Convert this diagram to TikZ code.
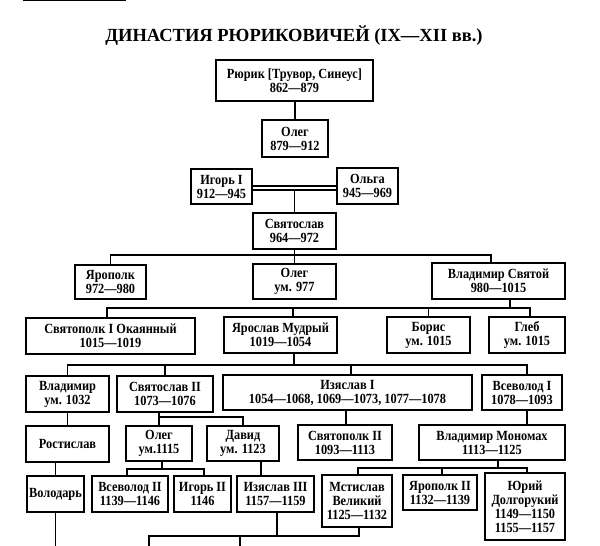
\documentclass[tikz,border=0pt]{standalone}
\usepackage{fontspec}
\setmainfont{Liberation Serif}
\newfontfamily\boxfont{Liberation Serif}[FakeStretch=0.88]
\usetikzlibrary{calc}
\newcommand\Bx[6]{\node[box, minimum width={#4pt-#2pt}, minimum height={#5pt-#3pt}] (#1) at ({(#2+#4)/2},{(#3+#5)/2}) {#6};}
\begin{document}
\begin{tikzpicture}[x=1pt,y=-1pt,
  box/.style={draw, line width=1.2pt, align=center, inner sep=0pt,
    font=\boxfont\bfseries\fontsize{14}{14}\selectfont},
  conn/.style={draw, line width=1.1pt},
  titlestyle/.style={font=\bfseries\fontsize{18.5}{20}\selectfont}]
\useasboundingbox (0,0) rectangle (600,546);
\fill (23,0) rectangle (126,1.2);
\node[titlestyle] (title) at (294,36) {ДИНАСТИЯ РЮРИКОВИЧЕЙ (IX—XII вв.)};
% boxes
\Bx{rurik}{216}{60}{373}{101}{Рюрик [Трувор, Синеус]\\862—879}
\Bx{olegA}{262}{120}{328}{157}{Олег\\879—912}
\Bx{igor}{191}{169}{252}{204}{Игорь I\\912—945}
\Bx{olga}{337}{168}{398}{204}{Ольга\\945—969}
\Bx{svyat}{253}{213}{336}{249}{Святослав\\964—972}
\Bx{yaropolk}{75}{265}{146}{299}{Ярополк\\972—980}
\Bx{olegB}{253}{264}{336}{299}{Олег\\ум. 977}
\Bx{vladsv}{432}{263}{565}{299}{Владимир Святой\\980—1015}
\Bx{svpolkA}{26}{318}{195}{354}{Святополк I Окаянный\\1015—1019}
\Bx{yaroslav}{224}{317}{337}{353}{Ярослав Мудрый\\1019—1054}
\Bx{boris}{387}{317}{470}{353}{Борис\\ум. 1015}
\Bx{gleb}{489}{317}{565}{353}{Глеб\\ум. 1015}
\Bx{vladimir}{26}{376}{109}{412}{Владимир\\ум. 1032}
\Bx{svyatB}{117}{376}{213}{412}{Святослав II\\1073—1076}
\Bx{izyaslavA}{223}{375}{472}{410}{Изяслав I\\1054—1068, 1069—1073, 1077—1078}
\Bx{vsevolodA}{482}{375}{562}{410}{Всеволод I\\1078—1093}
\Bx{rostislav}{26}{426}{109}{462}{Ростислав}
\Bx{olegC}{126}{426}{192}{461}{Олег\\ум.1115}
\Bx{david}{207}{426}{279}{461}{Давид\\ум. 1123}
\Bx{svpolkB}{298}{425}{392}{460}{Святополк II\\1093—1113}
\Bx{monomakh}{419}{425}{565}{460}{Владимир Мономах\\1113—1125}
\Bx{volodar}{27}{476}{84}{512}{Володарь}
\Bx{vsevolodB}{92}{476}{168}{512}{Всеволод II\\1139—1146}
\Bx{igorB}{174}{476}{231}{512}{Игорь II\\1146}
\Bx{izyaslavC}{237}{476}{314}{512}{Изяслав III\\1157—1159}
\Bx{mstislav}{322}{475}{392}{527}{Мстислав\\Великий\\1125—1132}
\Bx{yaropolkB}{403}{475}{477}{510}{Ярополк II\\1132—1139}
\Bx{yuri}{485}{473}{565}{540}{Юрий\\Долгорукий\\1149—1150\\1155—1157}
% helper coordinates
\coordinate (dlA) at (0,186);
\coordinate (dlB) at (0,190);
\coordinate (bA) at (0,255);
\coordinate (bB) at (0,308);
\coordinate (bC) at (0,365);
\coordinate (bD) at (0,417);
\coordinate (bE) at (0,469);
\coordinate (bF) at (0,468);
\coordinate (bG) at (0,536);
\coordinate (bot) at (0,546);
\coordinate (xa) at (149,0);
\coordinate (xb) at (240,0);
% connectors
\draw[conn] (olegA.north) -- (olegA.north |- rurik.south);
\draw[conn] (igor.east |- dlA) -- (olga.west |- dlA);
\draw[conn] (igor.east |- dlB) -- (olga.west |- dlB);
\draw[conn] (svyat.north) -- (svyat.north |- dlB);
\draw[conn] (svyat.south) -- (olegB.north);
\draw[conn] (yaropolk.north) -- (yaropolk.north |- bA) -- ([xshift=-7.5pt]vladsv.north |- bA) -- ([xshift=-7.5pt]vladsv.north);
\draw[conn] ([xshift=11.5pt]vladsv.south) -- ([xshift=11.5pt]vladsv.south |- bB);
\draw[conn] ([xshift=-3.5pt]svpolkA.north) -- ([xshift=-3.5pt]svpolkA.north |- bB) -- ([xshift=3pt]gleb.north |- bB) -- ([xshift=3pt]gleb.north);
\draw[conn] ([xshift=12.5pt]yaroslav.north) -- ([xshift=12.5pt]yaroslav.north |- bB);
\draw[conn] (boris.north) -- (boris.north |- bB);
\draw[conn] ([xshift=13.5pt]yaroslav.south) -- ([xshift=13.5pt]yaroslav.south |- bC);
\draw[conn] (vladimir.north) -- (vladimir.north |- bC) -- ([xshift=5pt]vsevolodA.north |- bC) -- ([xshift=5pt]vsevolodA.north);
\draw[conn] (svyatB.north) -- (svyatB.north |- bC);
\draw[conn] ([xshift=3.5pt]izyaslavA.north) -- ([xshift=3.5pt]izyaslavA.north |- bC);
\draw[conn] (vladimir.south) -- (rostislav.north);
\draw[conn] (volodar.north) -- (volodar.north |- rostislav.south);
\draw[conn] (olegC.north) -- (olegC.north |- svyatB.south);
\draw[conn] (olegC.north |- bD) -- (david.north |- bD) -- (david.north);
\draw[conn] ([xshift=3pt]olegC.south) -- ([xshift=3pt]olegC.south |- bE);
\draw[conn] ([xshift=-3pt]vsevolodB.north) -- ([xshift=-3pt]vsevolodB.north |- bE) -- ([xshift=1.5pt]igorB.north |- bE) -- ([xshift=1.5pt]igorB.north);
\draw[conn] ([xshift=18pt]david.south) -- ([xshift=18pt]david.south |- izyaslavC.north);
\draw[conn] ([xshift=1pt]svpolkB.north) -- ([xshift=1pt]svpolkB.north |- izyaslavA.south);
\draw[conn] ([xshift=5pt]vsevolodA.south) -- ([xshift=5pt]vsevolodA.south |- monomakh.north);
\draw[conn] ([xshift=6pt]monomakh.south) -- ([xshift=6pt]monomakh.south |- bF);
\draw[conn] ([xshift=1pt]mstislav.north) -- ([xshift=1pt]mstislav.north |- bF) -- ([xshift=2pt]yuri.north |- bF) -- ([xshift=2pt]yuri.north);
\draw[conn] ([xshift=2pt]yaropolkB.north) -- ([xshift=2pt]yaropolkB.north |- bF);
\draw[conn] ([xshift=1.5pt]izyaslavC.south) -- ([xshift=1.5pt]izyaslavC.south |- bG);
\draw[conn] (xa |- bot) -- (xa |- bG) -- ([xshift=2pt]mstislav.south |- bG) -- ([xshift=2pt]mstislav.south);
\draw[conn] (xb |- bG) -- (xb |- bot);
\draw[conn] (volodar.south) -- (volodar.south |- bot);
\end{tikzpicture}
\end{document}
